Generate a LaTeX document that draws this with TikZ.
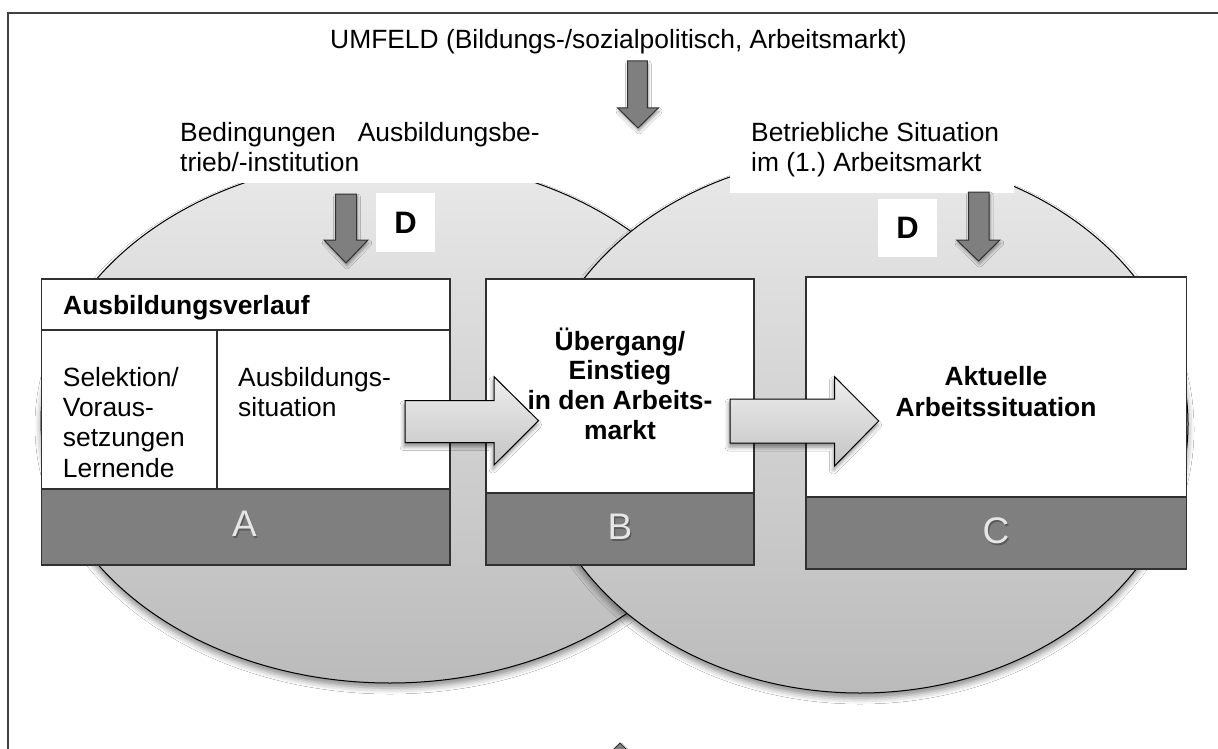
\documentclass[tikz,border=0pt]{standalone}
\usepackage{fontspec}
\setmainfont{Liberation Sans}
\usetikzlibrary{shadows.blur}
\frenchspacing
\definecolor{ellTop}{HTML}{E9E9E9}
\definecolor{ellBot}{HTML}{BBBBBB}
\definecolor{bandgray}{HTML}{7F7F7F}
\definecolor{boxline}{HTML}{303030}
\definecolor{arrTop}{HTML}{EEEEEE}
\definecolor{arrBot}{HTML}{C4C4C4}
\definecolor{lblgray}{HTML}{E6E6E6}
\definecolor{framecol}{HTML}{404040}
\tikzset{
  ell/.style={draw=black, line width=1pt, top color=ellTop, bottom color=ellBot,
    blur shadow={shadow xshift=0pt, shadow yshift=-5pt, shadow blur radius=6pt, shadow opacity=45}},
  boxw/.style={draw=boxline, line width=1.2pt, fill=white},
  bandbox/.style={draw=boxline, line width=1.2pt, fill=bandgray},
  darrow/.style={draw=boxline, line width=1pt, fill=bandgray,
    blur shadow={shadow xshift=1pt, shadow yshift=-3pt, shadow blur radius=3pt, shadow opacity=40}},
  barrow/.style={draw=black, line width=1pt, top color=arrTop, bottom color=arrBot,
    blur shadow={shadow xshift=-1pt, shadow yshift=-4pt, shadow blur radius=4pt, shadow opacity=45}},
  txt/.style={inner sep=0pt, font=\fontsize{26.4}{30}\selectfont},
  btxt/.style={inner sep=0pt, font=\fontsize{26.4}{30}\selectfont\bfseries},
  dtxt/.style={inner sep=0pt, font=\fontsize{31}{34}\selectfont\bfseries},
  lbl/.style={inner sep=0pt, font=\fontsize{37}{40}\selectfont, text=lblgray},
  lblsh/.style={inner sep=0pt, font=\fontsize{37}{40}\selectfont, text=black!75, opacity=0.55},
}
\begin{document}
\begin{tikzpicture}[x=1pt,y=-1pt]
\useasboundingbox (0,0) rectangle (1218,749);
\clip (0,0) rectangle (1218,749);
\fill[white] (0,0) rectangle (1218,749);
% outer frame (cut off at right and bottom)
\draw[framecol, line width=1.2pt] (8,13) rectangle (1240,780);

% two overlapping ellipses
\path[ell] (390,421) ellipse [x radius=349pt, y radius=262pt];
\path[ell] (860,424) ellipse [x radius=328pt, y radius=269pt];

% white text boxes hiding the ellipse tops
\fill[white] (170,95) rectangle (565,183);
\fill[white] (730,100) rectangle (1014,193);

% top texts
\node[txt, anchor=base west] (umfeld) at (330,48.3) {UMFELD (Bildungs-/sozialpolitisch, Arbeitsmarkt)};
\node[txt, anchor=base west] (bed1) at (180,141.7) {Bedingungen\hspace{22pt}Ausbildungsbe-};
\node[txt, anchor=base west] (bed2) at (180,171.7) {trieb/-institution};
\node[txt, anchor=base west] (bet1) at (751,141.5) {Betriebliche Situation};
\node[txt, anchor=base west] (bet2) at (751,171.5) {im (1.) Arbeitsmarkt};

% down arrows
\path[darrow] (627.6,61) -- (647.3,61) -- (647.3,108) -- (658.3,108) -- (638,128) -- (617.7,108) -- (627.6,108) -- cycle;
\path[darrow] (335.5,194) -- (356.5,194) -- (356.5,240) -- (368,240) -- (346,263) -- (324,240) -- (335.5,240) -- cycle;
\path[darrow] (968.5,192) -- (989,192) -- (989,240) -- (1000,240) -- (978.5,261) -- (956.7,240) -- (968.5,240) -- cycle;
\path[darrow] (620,743) -- (640,763) -- (630,763) -- (630,820) -- (610,820) -- (610,763) -- (600,763) -- cycle;

% D boxes
\fill[white] (376,193) rectangle (435,252);
\node[dtxt] (d1) at (405.5,222.5) {D};
\fill[white] (878,199) rectangle (937,257);
\node[dtxt] (d2) at (907.5,228) {D};

% box A
\path[boxw] (41.5,279) rectangle (450,489);
\draw[boxline, line width=1.2pt] (41.5,330) -- (450,330);
\draw[boxline, line width=1.2pt] (217,330) -- (217,489);
\path[bandbox] (41.5,489) rectangle (450,565);
% box B
\path[boxw] (486,279) rectangle (754,493);
\path[bandbox] (486,493) rectangle (754,565);
% box C
\path[boxw] (806,277) rectangle (1186.5,497);
\path[bandbox] (806,497) rectangle (1186.5,569);

% band labels
\node[lblsh] at (245.8,525.6) {A};
\node[lbl] (labA) at (244.5,524) {A};
\node[lblsh] at (621.3,528.6) {B};
\node[lbl] (labB) at (620,527) {B};
\node[lblsh] at (997.3,532.6) {C};
\node[lbl] (labC) at (996,531) {C};

% block arrows
\path[barrow] (405,400.7) -- (494,400.7) -- (494,376.7) -- (538.5,420.7) -- (494,465) -- (494,442.7) -- (405,442.7) -- cycle;
\path[barrow] (730,399) -- (834.5,399) -- (834.5,376.7) -- (878.7,421) -- (834.5,466) -- (834.5,443) -- (730,443) -- cycle;

% box A texts
\node[btxt, anchor=base west] (verl) at (63,314.3) {Ausbildungsverlauf};
\node[txt, anchor=base west] (sel1) at (62.7,386.7) {Selektion/};
\node[txt, anchor=base west] (sel2) at (62.7,416.5) {Voraus-};
\node[txt, anchor=base west] (sel3) at (62.7,446.5) {setzungen};
\node[txt, anchor=base west] (sel4) at (62.7,477) {Lernende};
\node[txt, anchor=base west] (sit1) at (238,386.7) {Ausbildungs-};
\node[txt, anchor=base west] (sit2) at (238,416.5) {situation};

% box B texts
\node[btxt, anchor=base] (ub1) at (620,350) {Übergang/};
\node[btxt, anchor=base] (ub2) at (620,379.7) {Einstieg};
\node[btxt, anchor=base] (ub3) at (620,409.5) {in den Arbeits-};
\node[btxt, anchor=base] (ub4) at (620,439.3) {markt};

% box C texts
\node[btxt, anchor=base] (ak1) at (996,385.5) {Aktuelle};
\node[btxt, anchor=base] (ak2) at (996,416.5) {Arbeitssituation};
\end{tikzpicture}
\end{document}
